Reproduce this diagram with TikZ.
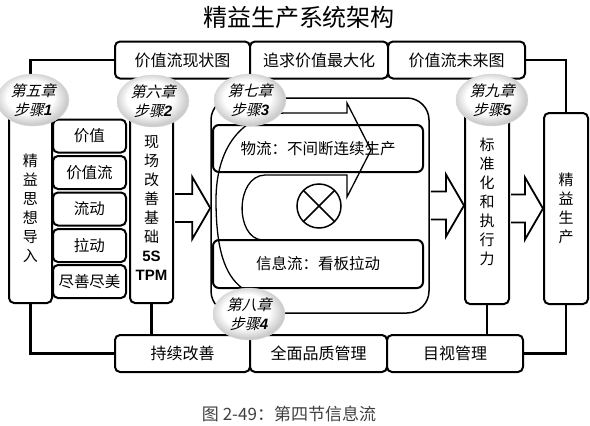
\documentclass[tikz,border=0pt]{standalone}
\usepackage{fontspec}
\setmainfont{Noto Sans CJK SC}
\newfontfamily\slantfont{Noto Sans CJK SC}[FakeSlant=0.25]
\newfontfamily\latinfont{Liberation Sans}
\usetikzlibrary{calc, shapes.geometric}
\pgfdeclareradialshading{softball}{\pgfpoint{-3bp}{4bp}}{color(0bp)=(white); color(16bp)=(white); color(25bp)=(gray!40); color(50bp)=(gray!40)}
\newcommand\stepnum[1]{{\latinfont\bfseries\itshape #1}}
\newcommand\blockarrow[2]{%
  \draw[barrow] let \p1=(#1), \p2=(#2) in
    (\x1+1pt,\y1+14pt) -- (\x2-18pt,\y1+14pt) -- (\x2-18pt,\y1+31pt) -- (\x2,\y1)
    -- (\x2-18pt,\y1-31pt) -- (\x2-18pt,\y1-14pt) -- (\x1+1pt,\y1-14pt);}

\begin{document}
\begin{tikzpicture}[x=1pt, y=-1pt,
    box/.style={draw, line width=2pt, rounded corners=5pt, fill=white, inner sep=0pt, font=\fontsize{15.5}{18}\selectfont},
    column/.style={box, minimum width=43pt, minimum height=190pt, align=center, font=\fontsize{15}{19}\selectfont},
    item/.style={box, minimum width=73pt, minimum height=33pt},
    bar/.style={box, minimum height=37pt, font=\fontsize{16}{18}\selectfont},
    flowbox/.style={box, rounded corners=6pt, minimum width=210pt, minimum height=47pt},
    conn/.style={line width=2.8pt},
    barrow/.style={line width=1.8pt, fill=white, line join=miter},
    stepnote/.style={ellipse, draw=gray!30, thin, minimum width=72pt, minimum height=52pt, inner sep=0pt,
      shading=softball, align=center, font=\fontsize{15}{19}\selectfont\slantfont}]
    \useasboundingbox (0,0) rectangle (590,426);

    % Title and caption
    \node[font=\fontsize{24}{26}\selectfont] (title) at (299,17) {精益生产系统架构};
    \node[font=\fontsize{17}{19}\selectfont, text=black!75] (caption) at (289,414) {图 2-49：第四节信息流};

    % Top and bottom bars
    \node[bar, minimum width=135pt] (vsm) at (182.5,60) {价值流现状图};
    \node[bar, minimum width=138pt] (maxval) at (319,60) {追求价值最大化};
    \node[bar, minimum width=137pt] (future) at (456.5,60) {价值流未来图};
    \node[bar, minimum width=135pt] (kaizen) at (182.5,353.5) {持续改善};
    \node[bar, minimum width=137pt] (tqm) at (318.5,353.5) {全面品质管理};
    \node[bar, minimum width=136pt] (visual) at (455,353.5) {目视管理};

    % Columns
    \node[column] (idea) at (30.5,208) {精\\益\\思\\想\\导\\入};
    \node[item] (value) at (89.5,136) {价值};
    \node[item] (stream) at (89.5,172.5) {价值流};
    \node[item] (flow) at (89.5,209) {流动};
    \node[item] (pull) at (89.5,245.5) {拉动};
    \node[item] (perfect) at (89.5,281.5) {尽善尽美};
    \node[column] (site) at (151.5,208) {现\\场\\改\\善\\基\\础\\{\latinfont\bfseries 5S}\\{\latinfont\bfseries TPM}};
    \node[column, minimum width=44pt, minimum height=191pt] (std) at (487,208.5) {标\\准\\化\\和\\执\\行\\力\\[-4pt]\mbox{}};
    \node[column, minimum width=44pt, minimum height=191pt] (lean) at (566,208.5) {精\\益\\生\\产};

    % Connectors
    \draw[conn] (vsm.west) -| (idea.north);
    \draw[conn] (future.east) -| (lean.north);
    \draw[conn] (idea.south) |- (kaizen.west);
    \draw[conn] (lean.south) |- (visual.east);
    \draw[conn] (site.south) -- (site.south |- kaizen.north);
    \draw[conn] (std.south) -- (std.south |- visual.north);

    % Core
    \node[draw, line width=1.5pt, rounded corners=22pt, minimum width=218pt, minimum height=215pt] (core) at (320,205.5) {};
    \node[flowbox] (material) at (318,148.5) {物流：不间断连续生产};
    \node[flowbox, minimum height=48pt] (info) at (318,264) {信息流：看板拉动};
    \node[circle, draw, line width=1.5pt, minimum size=44pt, path picture={
        \draw[line width=1.5pt] (path picture bounding box.north west) -- (path picture bounding box.south east)
          (path picture bounding box.north east) -- (path picture bounding box.south west);}] (mix) at (319,206) {};
    \draw[line width=1.3pt, line join=miter] (242,288) .. controls (225,275) and (216,250) .. (216,200)
      .. controls (216,150) and (240,113) .. (287,113) -- (347,113) -- (347,103) -- (371,150)
      -- (347,197) -- (347,175) -- (265,175) .. controls (235,176) and (235,238) .. (262,240);

    % Block arrows
    \blockarrow{site.east}{core.west}
    \blockarrow{core.east}{std.west}
    \blockarrow{std.east}{lean.west}

    % Step notes
    \node[stepnote] (step1) at (33,100) {第五章\\步骤\stepnum{1}};
    \node[stepnote] (step2) at (153,101) {第六章\\步骤\stepnum{2}};
    \node[stepnote] (step3) at (250,100) {第七章\\步骤\stepnum{3}};
    \node[stepnote] (step4) at (249,314) {第八章\\步骤\stepnum{4}};
    \node[stepnote] (step5) at (492,100) {第九章\\步骤\stepnum{5}};
\end{tikzpicture}
\end{document}
